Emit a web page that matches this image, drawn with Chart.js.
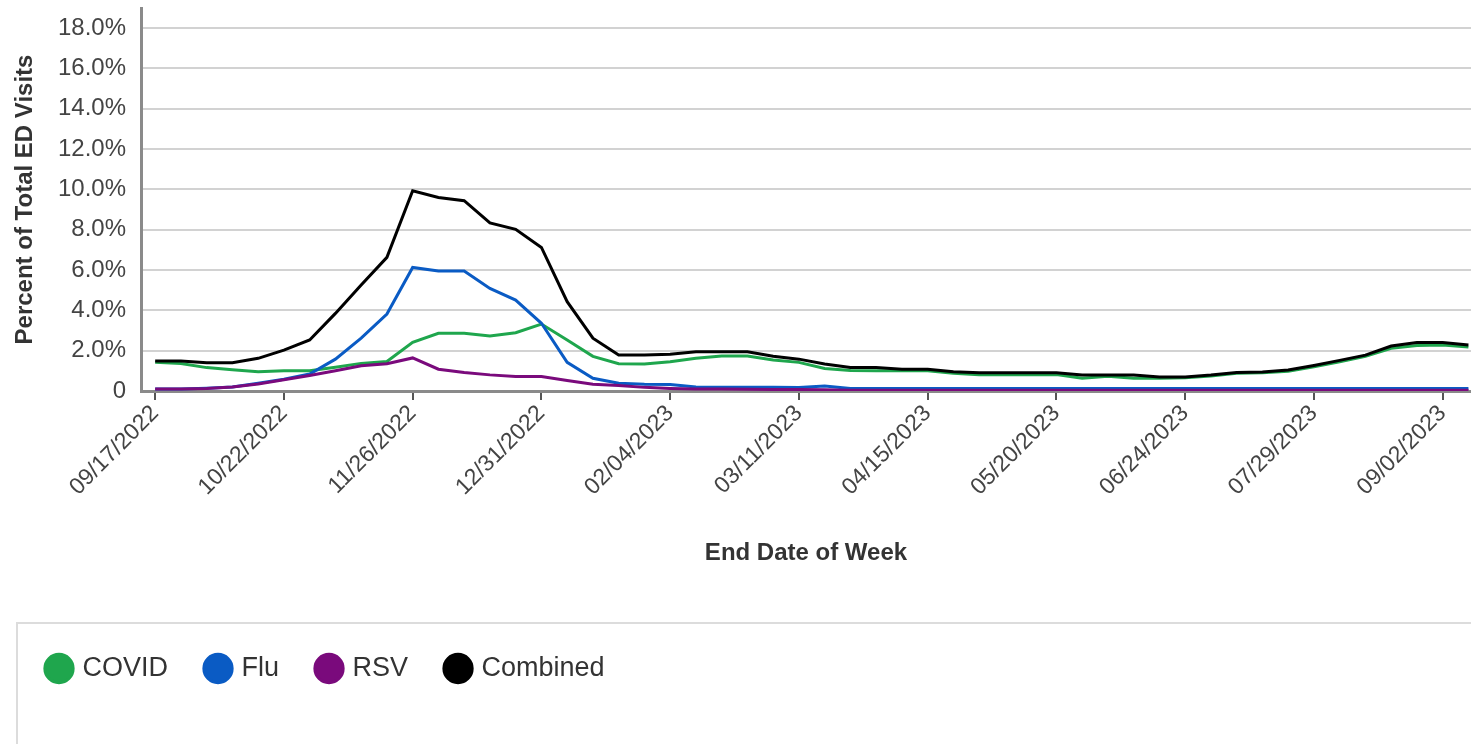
<!DOCTYPE html>
<html>
<head>
<meta charset="utf-8">
<title>ED Visits</title>
<script src="https://cdn.jsdelivr.net/npm/chart.js@4.4.1/dist/chart.umd.min.js"></script>
<style>
    html, body { margin: 0; padding: 0; background: #fff; overflow: hidden; }
    .wrap { position: relative; width: 1471px; height: 744px; }
    .legend-box {
        position: absolute; left: 16px; top: 622px; width: 1480px; height: 140px;
        border: 2px solid #dcdcdc; box-sizing: border-box;
    }
    #edChart { position: absolute; left: 0; top: 0; }
</style>
</head>
<body>
<div class="wrap">
    <div class="legend-box"></div>
    <canvas id="edChart" width="1471" height="744"></canvas>
</div>
<script>
// week ending dates
const weeks = [
    '09/17/2022', '09/24/2022', '10/01/2022', '10/08/2022', '10/15/2022', '10/22/2022',
    '10/29/2022', '11/05/2022', '11/12/2022', '11/19/2022', '11/26/2022', '12/03/2022',
    '12/10/2022', '12/17/2022', '12/24/2022', '12/31/2022', '01/07/2023', '01/14/2023',
    '01/21/2023', '01/28/2023', '02/04/2023', '02/11/2023', '02/18/2023', '02/25/2023',
    '03/04/2023', '03/11/2023', '03/18/2023', '03/25/2023', '04/01/2023', '04/08/2023',
    '04/15/2023', '04/22/2023', '04/29/2023', '05/06/2023', '05/13/2023', '05/20/2023',
    '05/27/2023', '06/03/2023', '06/10/2023', '06/17/2023', '06/24/2023', '07/01/2023',
    '07/08/2023', '07/15/2023', '07/22/2023', '07/29/2023', '08/05/2023', '08/12/2023',
    '08/19/2023', '08/26/2023', '09/02/2023', '09/09/2023'
];

// percent of total ED visits
const covid = [
    1.42, 1.36, 1.16, 1.06, 0.96, 1.01, 1.0, 1.18, 1.37, 1.46, 2.42, 2.86,
    2.86, 2.73, 2.89, 3.32, 2.53, 1.72, 1.35, 1.34, 1.45, 1.62, 1.74, 1.74,
    1.54, 1.42, 1.12, 1.02, 1.01, 1.0, 1.0, 0.88, 0.8, 0.8, 0.8, 0.82,
    0.63, 0.73, 0.63, 0.63, 0.66, 0.74, 0.88, 0.9, 0.98, 1.2, 1.45, 1.72,
    2.12, 2.26, 2.28, 2.18
];
const flu = [
    0.1, 0.1, 0.14, 0.2, 0.38, 0.58, 0.84, 1.58, 2.62, 3.82, 6.13, 5.95,
    5.95, 5.09, 4.51, 3.36, 1.42, 0.63, 0.38, 0.33, 0.32, 0.2, 0.19, 0.19,
    0.19, 0.17, 0.25, 0.13, 0.13, 0.13, 0.13, 0.13, 0.13, 0.13, 0.12, 0.12,
    0.12, 0.12, 0.12, 0.12, 0.12, 0.12, 0.12, 0.12, 0.12, 0.12, 0.12, 0.12,
    0.12, 0.12, 0.12, 0.12
];
const rsv = [
    0.1, 0.1, 0.12, 0.2, 0.35, 0.56, 0.77, 1.0, 1.25, 1.35, 1.64, 1.08,
    0.92, 0.8, 0.72, 0.72, 0.52, 0.33, 0.27, 0.18, 0.13, 0.1, 0.1, 0.09,
    0.08, 0.08, 0.06, 0.04, 0.04, 0.04, 0.04, 0.04, 0.04, 0.04, 0.04, 0.04,
    0.04, 0.04, 0.04, 0.04, 0.04, 0.04, 0.04, 0.04, 0.04, 0.04, 0.04, 0.04,
    0.04, 0.04, 0.04, 0.04
];
const combined = [
    1.49, 1.49, 1.4, 1.4, 1.62, 2.03, 2.53, 3.85, 5.26, 6.63, 9.93, 9.6,
    9.44, 8.34, 8.02, 7.12, 4.43, 2.62, 1.78, 1.78, 1.82, 1.95, 1.95, 1.95,
    1.72, 1.58, 1.34, 1.17, 1.17, 1.08, 1.08, 0.96, 0.9, 0.9, 0.9, 0.9,
    0.79, 0.79, 0.79, 0.7, 0.7, 0.79, 0.92, 0.94, 1.04, 1.27, 1.52, 1.78,
    2.23, 2.41, 2.41, 2.28
];

const yTicks = [0, 2, 4, 6, 8, 10, 12, 14, 16, 18];

const FONT = '"Liberation Sans", Arial, Helvetica, sans-serif';

function toPoints(values) {
    return values.map((v, i) => ({ x: i, y: v }));
}

function series(label, values, color, order) {
    return {
        label: label,
        data: toPoints(values),
        borderColor: color,
        backgroundColor: color,
        pointBorderColor: color,
        pointBackgroundColor: color,
        borderWidth: 3,
        pointRadius: 0,
        pointHoverRadius: 0,
        tension: 0,
        fill: false,
        order: order
    };
}

new Chart(document.getElementById('edChart'), {
    type: 'line',
    data: {
        datasets: [
            series('COVID', covid, '#1fa64d', 3),
            series('Flu', flu, '#0a5bc4', 2),
            series('RSV', rsv, '#7a0a7c', 1),
            series('Combined', combined, '#000000', 0)
        ]
    },
    options: {
        responsive: false,
        animation: false,
        devicePixelRatio: 1,
        layout: { padding: { left: 9, top: 8, right: 0, bottom: 52 } },
        plugins: {
            tooltip: { enabled: false },
            legend: {
                position: 'bottom',
                align: 'start',
                labels: {
                    usePointStyle: true,
                    pointStyle: 'circle',
                    boxWidth: 20,
                    boxHeight: 20,
                    padding: 40,
                    color: '#333',
                    font: { family: FONT, size: 27 },
                    sort: (a, b) => a.datasetIndex - b.datasetIndex
                }
            }
        },
        scales: {
            x: {
                type: 'linear',
                min: -0.55,
                max: 51.1,
                afterBuildTicks: (scale) => {
                    scale.ticks = scale.ticks.filter(t => Number.isInteger(t.value) && t.value >= 0 && t.value % 5 === 0);
                },
                afterFit: (scale) => { scale.height = 224; },
                ticks: {
                    stepSize: 5,
                    includeBounds: false,
                    autoSkip: false,
                    minRotation: 45,
                    maxRotation: 45,
                    padding: 0,
                    color: '#444',
                    font: { family: FONT, size: 23 },
                    callback: (v) => weeks[v]
                },
                grid: {
                    drawOnChartArea: false,
                    drawTicks: true,
                    tickLength: 9,
                    color: '#555',
                    lineWidth: 2
                },
                border: { color: '#8a8a8a', width: 3 },
                title: {
                    display: true,
                    text: 'End Date of Week',
                    color: '#333',
                    font: { family: FONT, size: 24, weight: 'bold' },
                    padding: { top: 10, bottom: 47 }
                }
            },
            y: {
                min: 0,
                max: 19,
                afterBuildTicks: (scale) => {
                    scale.ticks = yTicks.map(v => ({ value: v }));
                },
                afterFit: (scale) => {
                    scale.width = 132;
                    scale.paddingTop = 0;
                    scale.paddingBottom = 0;
                },
                ticks: {
                    stepSize: 2,
                    includeBounds: false,
                    padding: 15,
                    color: '#444',
                    font: { family: FONT, size: 24 },
                    callback: (v) => v === 0 ? '0' : v.toFixed(1) + '%'
                },
                grid: {
                    drawTicks: false,
                    lineWidth: 2,
                    color: (c) => c.tick && c.tick.value === 0 ? 'rgba(0,0,0,0)' : '#d2d2d2'
                },
                border: { color: '#8a8a8a', width: 3 },
                title: {
                    display: true,
                    text: 'Percent of Total ED Visits',
                    color: '#333',
                    font: { family: FONT, size: 24, weight: 'bold' },
                    padding: { top: 2, bottom: 0 }
                }
            }
        }
    }
});
</script>
</body>
</html>
